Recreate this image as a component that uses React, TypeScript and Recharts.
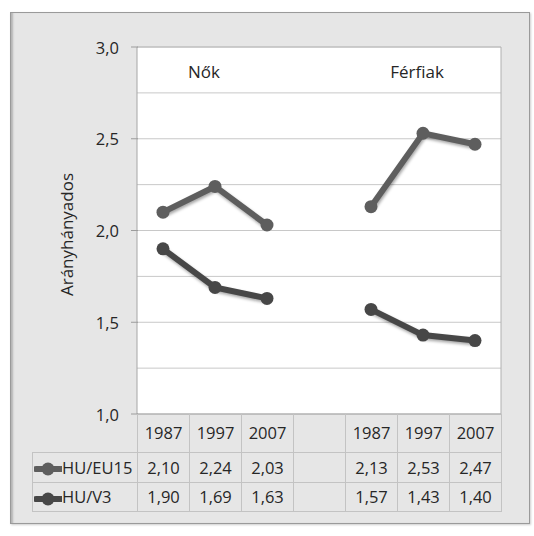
import React from 'react';
import {
  LineChart, Line, XAxis, YAxis, CartesianGrid, ReferenceLine, ReferenceDot,
} from 'recharts';

// categories: two groups (Nők, Férfiak) with an empty gap column between them
const keys = ['n1987', 'n1997', 'n2007', 'gap', 'f1987', 'f1997', 'f2007'];
const years = ['1987', '1997', '2007', '', '1987', '1997', '2007'];
const huEu15 = [2.10, 2.24, 2.03, null, 2.13, 2.53, 2.47];
const huV3 = [1.90, 1.69, 1.63, null, 1.57, 1.43, 1.40];
const yTicks = [1, 1.25, 1.5, 1.75, 2, 2.25, 2.5, 2.75, 3];

const SERIES = [
  { key: 'eu15', name: 'HU/EU15', values: huEu15, color: '#5e5e5e' },
  { key: 'v3', name: 'HU/V3', values: huV3, color: '#474747' },
];

const data = keys.map((k, i) => ({
  key: k,
  eu15: huEu15[i],
  v3: huV3[i],
}));

const FONT = '"Open Sans", sans-serif';
const TXT = '#262626';
const fmt = (v: number | null, d = 2) => (v == null ? '' : v.toFixed(d).replace('.', ','));

function YTick(props: any) {
  const { x, y, payload } = props;
  const v = payload.value as number;
  if (Math.abs(v * 2 - Math.round(v * 2)) > 1e-6) return null;
  return (
    <g>
      <line x1={x + 2} x2={x + 9} y1={y} y2={y} stroke="#9c9c9c" />
      <text x={x - 10} y={y} textAnchor="end" dominantBaseline="central"
        fontSize={16.5} fill={TXT} fontFamily={FONT}>
        {fmt(v, 1)}
      </text>
    </g>
  );
}

function Marker({ color }: { color: string }) {
  return (
    <svg width={28} height={14} style={{ verticalAlign: 'middle', marginRight: 0 }}>
      <line x1={2} x2={27} y1={7} y2={7} stroke={color} strokeWidth={6} strokeLinecap="round" />
      <circle cx={14} cy={7} r={6.5} fill={color} />
    </svg>
  );
}

const cell: React.CSSProperties = {
  border: '1px solid #c3c3c3',
  textAlign: 'center',
  padding: 0,
  fontSize: 16.5,
  color: TXT,
};

export default function App() {
  return (
    <div style={{ position: 'absolute', left: 0, top: 0, width: 534, height: 536, background: '#fff', fontFamily: FONT }}>
      <style>{`.recharts-line { filter: drop-shadow(1px 2px 1.5px rgba(0,0,0,0.35)); }`}</style>
      <div style={{
        position: 'absolute', left: 10, top: 12, width: 518, height: 510,
        background: '#e6e6e6', border: '1px solid #9a9a9a',
        boxShadow: 'inset 3px 0 2px -1px #b5b5b5, 1px 1px 2px rgba(0,0,0,0.2)',
      }} />
      <div style={{ position: 'absolute', left: 0, top: 0 }}>
        <LineChart width={534} height={536} data={data}
          margin={{ top: 47, right: 0, bottom: 122, left: 0 }}>
          <CartesianGrid vertical={false} stroke="#c8c8c8" fill="#ffffff" />
          <XAxis dataKey="key" scale="band" hide />
          <YAxis domain={[1, 3]} ticks={yTicks} width={137} interval={0}
            tickLine={false} axisLine={{ stroke: '#a6a6a6' }} tick={<YTick />}
            label={{ value: 'Arányhányados', angle: -90, position: 'center', dx: -2, dy: 4,
              style: { fontSize: 17, fill: TXT, fontFamily: FONT } }} />
          <YAxis yAxisId="right" orientation="right" domain={[1, 3]} width={33}
            tick={false} tickLine={false} axisLine={{ stroke: '#b0b0b0' }} />
          <ReferenceLine y={3} stroke="#b8b8b8" />
          <ReferenceLine y={1} stroke="#a6a6a6" />
          <ReferenceDot x="n1997" y={2.875} r={0} stroke="none" fill="none"
            label={{ value: 'Nők', position: 'center', dx: -11, dy: 2,
              style: { fontSize: 17, fill: TXT, fontFamily: FONT } }} />
          <ReferenceDot x="f1997" y={2.875} r={0} stroke="none" fill="none"
            label={{ value: 'Férfiak', position: 'center', dx: -6, dy: 2,
              style: { fontSize: 17, fill: TXT, fontFamily: FONT } }} />
          {SERIES.map((s) => (
            <Line key={s.key} dataKey={s.key} name={s.name} stroke={s.color} strokeWidth={6}
              dot={{ r: 6.5, fill: s.color, stroke: 'none' }} activeDot={false}
              isAnimationActive={false} connectNulls={false} />
          ))}
        </LineChart>
      </div>
      <table style={{
        position: 'absolute', left: 32, top: 414, borderCollapse: 'collapse',
        tableLayout: 'fixed', width: 469, fontFamily: FONT,
      }}>
        <colgroup>
          <col style={{ width: 105 }} />
          {keys.map((k) => <col key={k} style={{ width: 52 }} />)}
        </colgroup>
        <tbody>
          <tr style={{ height: 38 }}>
            <td style={{ padding: 0, border: 'none' }} />
            {years.map((y, i) => (
              <td key={i} style={{ ...cell, borderTop: 'none' }}>{y}</td>
            ))}
          </tr>
          {SERIES.map((s) => (
            <tr key={s.key} style={{ height: s.key === 'eu15' ? 30 : 29 }}>
              <td style={{ ...cell, textAlign: 'left', whiteSpace: 'nowrap', paddingLeft: 1 }}>
                <Marker color={s.color} />{s.name}
              </td>
              {s.values.map((v, i) => (
                <td key={i} style={cell}>{fmt(v)}</td>
              ))}
            </tr>
          ))}
        </tbody>
      </table>
    </div>
  );
}
